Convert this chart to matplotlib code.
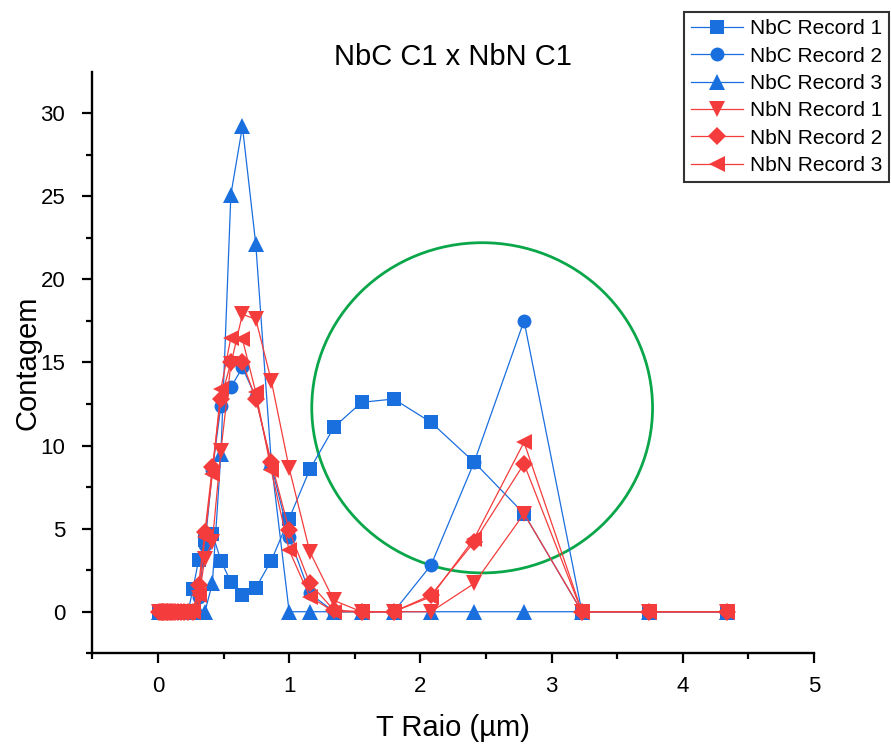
import matplotlib.pyplot as plt
from matplotlib.patches import Ellipse

plt.rcParams["font.family"] = ["Liberation Sans", "DejaVu Sans"]

BLUE = "#1a6fdf"
RED = "#f53c3c"
GREEN = "#0aa64a"

# bin centres (um)
raio = [0.005, 0.02, 0.03, 0.04, 0.05, 0.06, 0.07, 0.08, 0.09, 0.10, 0.115, 0.13, 0.15, 0.175,
        0.20, 0.23, 0.267, 0.310, 0.358, 0.415, 0.480, 0.556, 0.644, 0.746, 0.864, 1.0,
        1.158, 1.341, 1.552, 1.797, 2.081, 2.410, 2.790, 3.231, 3.741, 4.334]

nbc_rec1 = [0, 0, 0, 0, 0, 0, 0, 0, 0, 0, 0, 0, 0, 0, 0, 0,
            1.38, 3.1, 4.3, 4.7, 3.08, 1.78, 0.98, 1.43, 3.08, 5.6,
            8.57, 11.1, 12.6, 12.8, 11.4, 9.0, 5.9, 0, 0, 0]
nbc_rec2 = [0, 0, 0, 0, 0, 0, 0, 0, 0, 0, 0, 0, 0, 0, 0, 0,
            0, 0.9, 4.0, 8.5, 12.4, 13.5, 14.7, 12.9, 8.8, 4.5,
            1.1, 0, 0, 0, 2.8, 9.0, 17.5, 0, 0, 0]
nbc_rec3 = [0, 0, 0, 0, 0, 0, 0, 0, 0, 0, 0, 0, 0, 0, 0, 0,
            0, 0, 0, 1.7, 9.5, 25.1, 29.2, 22.1, 9.0, 0,
            0, 0, 0, 0, 0, 0, 0, 0, 0, 0]
nbn_rec1 = [0, 0, 0, 0, 0, 0, 0, 0, 0, 0, 0, 0, 0, 0, 0, 0,
            0, 0.8, 3.2, 4.2, 9.7, 14.9, 17.9, 17.6, 13.9, 8.65,
            3.6, 0.68, 0, 0, 0, 1.7, 5.9, 0, 0, 0]
nbn_rec2 = [0, 0, 0, 0, 0, 0, 0, 0, 0, 0, 0, 0, 0, 0, 0, 0,
            0, 1.6, 4.8, 8.7, 12.8, 15.0, 15.0, 12.8, 9.0, 4.9,
            1.7, 0.1, 0, 0, 1.0, 4.2, 8.9, 0, 0, 0]
nbn_rec3 = [0, 0, 0, 0, 0, 0, 0, 0, 0, 0, 0, 0, 0, 0, 0, 0,
            0, 1.0, 4.5, 8.3, 13.4, 16.5, 16.4, 13.2, 8.5, 3.7,
            0.9, 0, 0, 0, 0.9, 4.4, 10.2, 0, 0, 0]

series = [
    ("NbC Record 1", nbc_rec1, BLUE, "s", 9.5),
    ("NbC Record 2", nbc_rec2, BLUE, "o", 10),
    ("NbC Record 3", nbc_rec3, BLUE, "^", 11),
    ("NbN Record 1", nbn_rec1, RED, "v", 11),
    ("NbN Record 2", nbn_rec2, RED, "D", 9),
    ("NbN Record 3", nbn_rec3, RED, "<", 11),
]

fig = plt.figure(figsize=(8.91, 7.46), dpi=100)
ax = fig.add_axes([0.1036, 0.1243, 0.81, 0.7788])

# circle highlighting the second population
ax.add_patch(Ellipse((2.471, 12.27), 2.597, 19.87, fill=False,
                     edgecolor=GREEN, linewidth=2.0, zorder=1))

for label, values, color, marker, size in series:
    ax.plot(raio, values, color=color, linewidth=0.9, marker=marker,
            markersize=size, markeredgewidth=0, label=label, zorder=2)

ax.set_xlim(-0.5, 5)
ax.set_ylim(-2.44, 32.46)
ax.set_xticks([0, 1, 2, 3, 4, 5])
ax.set_xticks([-0.5, 0.5, 1.5, 2.5, 3.5, 4.5], minor=True)
ax.set_yticks([0, 5, 10, 15, 20, 25, 30])
ax.set_yticks([-2.5, 2.5, 7.5, 12.5, 17.5, 22.5, 27.5], minor=True)

for side in ("top", "right"):
    ax.spines[side].set_visible(False)
for side in ("left", "bottom"):
    ax.spines[side].set_linewidth(1.7)

ax.tick_params(which="major", length=7.5, width=1.6, labelsize=16, direction="out")
ax.tick_params(which="minor", length=4, width=1.6, direction="out")
ax.tick_params(axis="y", which="major", pad=12)
ax.tick_params(axis="x", which="major", pad=9)

ax.set_title("NbC C1 x NbN C1", fontsize=21, pad=5)
ax.set_xlabel("T Raio (\u00b5m)", fontsize=21, labelpad=12)
ax.set_ylabel("Contagem", fontsize=21, labelpad=-1)

leg = fig.legend(loc="upper right", bbox_to_anchor=(0.998, 0.984), fontsize=15,
                 frameon=True, fancybox=False, edgecolor="black", handlelength=2.5,
                 borderpad=0.35, labelspacing=0.4, handletextpad=0.3, borderaxespad=0)
leg.get_frame().set_linewidth(1.5)

fig.savefig("out.png", dpi=100)
